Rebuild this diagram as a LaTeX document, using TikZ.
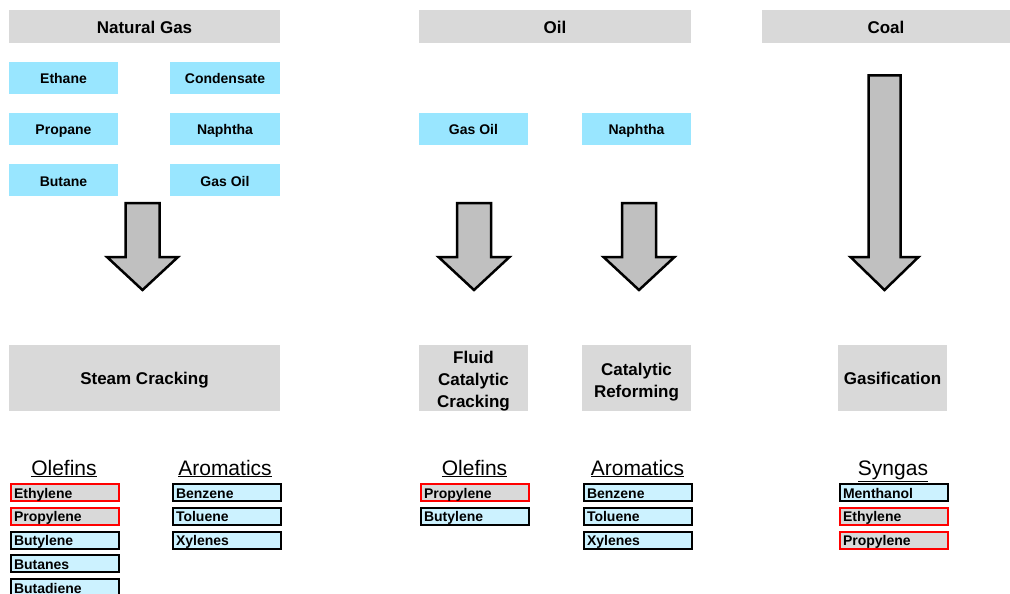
\documentclass[tikz,border=0pt]{standalone}
\usepackage{fontspec}
\setmainfont{Liberation Sans}
\usetikzlibrary{positioning}
\definecolor{hdrgray}{RGB}{217,217,217}
\definecolor{feedcyan}{RGB}{153,230,255}
\definecolor{prodcyan}{RGB}{204,242,255}
\definecolor{arrowgray}{RGB}{192,192,192}

\begin{document}
\begin{tikzpicture}[x=1pt,y=-1pt,
  hdr/.style={fill=hdrgray,inner sep=0pt,minimum height=33pt,text height=14pt,text depth=0.5pt,font=\bfseries\fontsize{17}{20}\selectfont},
  feed/.style={fill=feedcyan,inner sep=0pt,minimum width=109pt,minimum height=32pt,text height=13pt,text depth=1pt,font=\bfseries\fontsize{14}{16}\selectfont},
  proc/.style={fill=hdrgray,inner sep=0pt,minimum width=109pt,minimum height=66pt,align=center,font=\bfseries\fontsize{17}{22}\selectfont},
  procone/.style={proc,text height=16pt,text depth=3pt},
  grp/.style={anchor=base,inner sep=0pt,font=\fontsize{21}{24}\selectfont},
  prod/.style={draw=black,line width=2pt,fill=prodcyan,anchor=north west,minimum height=17pt,text width=102pt,text height=14pt,text depth=3pt,inner xsep=3pt,inner ysep=0pt,align=left,font=\bfseries\fontsize{14}{16}\selectfont},
  hot/.style={prod,draw=red,fill=hdrgray},
  bigarrow/.style={draw=black,line width=2.5pt,fill=arrowgray,line join=miter}]
\useasboundingbox (0,0) rectangle (1010,594);

% sources
\node[hdr,minimum width=271pt] (ng) at (144.5,26.5) {Natural Gas};
\node[hdr,minimum width=272pt] (oil) at (555,26.5) {Oil};
\node[hdr,minimum width=248pt] (coal) at (886,26.5) {Coal};

% feedstocks
\node[feed] (ethane) at (63.5,78) {Ethane};
\node[feed] (propane) at (63.5,129) {Propane};
\node[feed] (butane) at (63.5,180) {Butane};
\node[feed,minimum width=110pt] (condensate) at (225,78) {Condensate};
\node[feed,minimum width=110pt] (ngnaphtha) at (225,129) {Naphtha};
\node[feed,minimum width=110pt] (nggasoil) at (225,180) {Gas Oil};
\node[feed] (gasoil) at (473.5,129) {Gas Oil};
\node[feed] (naphtha) at (636.5,129) {Naphtha};

% block arrows
\foreach \cx/\ytop/\hs/\hh in {142.5/203/17/35.5,474/203/17/35.5,639/203/17/35.5,884.5/75.5/16/34}
  \draw[bigarrow] (\cx-\hs,\ytop) -- (\cx+\hs,\ytop) -- (\cx+\hs,257) -- (\cx+\hh,257)
    -- (\cx,290) -- (\cx-\hh,257) -- (\cx-\hs,257) -- cycle;

% processes
\node[procone,minimum width=271pt] (steam) at (144.5,378) {Steam Cracking};
\fill[hdrgray] (419,345) rectangle (528,411);
\node[proc,fill=none] (fcc) at (473.5,381) {Fluid\\Catalytic\\Cracking};
\fill[hdrgray] (582,345) rectangle (691,411);
\node[proc,fill=none] (reform) at (636.5,382) {Catalytic\\Reforming};
\node[procone] (gasif) at (892.5,378) {Gasification};

% products
\node[grp] (ngole) at (64,475) {\underline{Olefins}};
\node[grp] (ngaro) at (225,475) {\underline{Aromatics}};
\node[grp] (oilole) at (474.5,475) {\underline{Olefins}};
\node[grp] (oilaro) at (637.5,475) {\underline{Aromatics}};
\node[grp] (syn) at (893,475) {\underline{Syngas}};

\foreach \st/\txt [count=\i from 0] in {hot/Ethylene,hot/Propylene,prod/Butylene,prod/Butanes,prod/Butadiene}
  \node[\st] (ngole\i) at (10,483+23.75*\i) {\txt};
\foreach \st/\txt [count=\i from 0] in {prod/Benzene,prod/Toluene,prod/Xylenes}
  \node[\st] (ngaro\i) at (172,483+23.75*\i) {\txt};
\foreach \st/\txt [count=\i from 0] in {hot/Propylene,prod/Butylene}
  \node[\st] (oilole\i) at (420,483+23.75*\i) {\txt};
\foreach \st/\txt [count=\i from 0] in {prod/Benzene,prod/Toluene,prod/Xylenes}
  \node[\st] (oilaro\i) at (583,483+23.75*\i) {\txt};
\foreach \st/\txt [count=\i from 0] in {prod/Menthanol,hot/Ethylene,hot/Propylene}
  \node[\st] (syn\i) at (839,483+23.75*\i) {\txt};
\end{tikzpicture}
\end{document}
